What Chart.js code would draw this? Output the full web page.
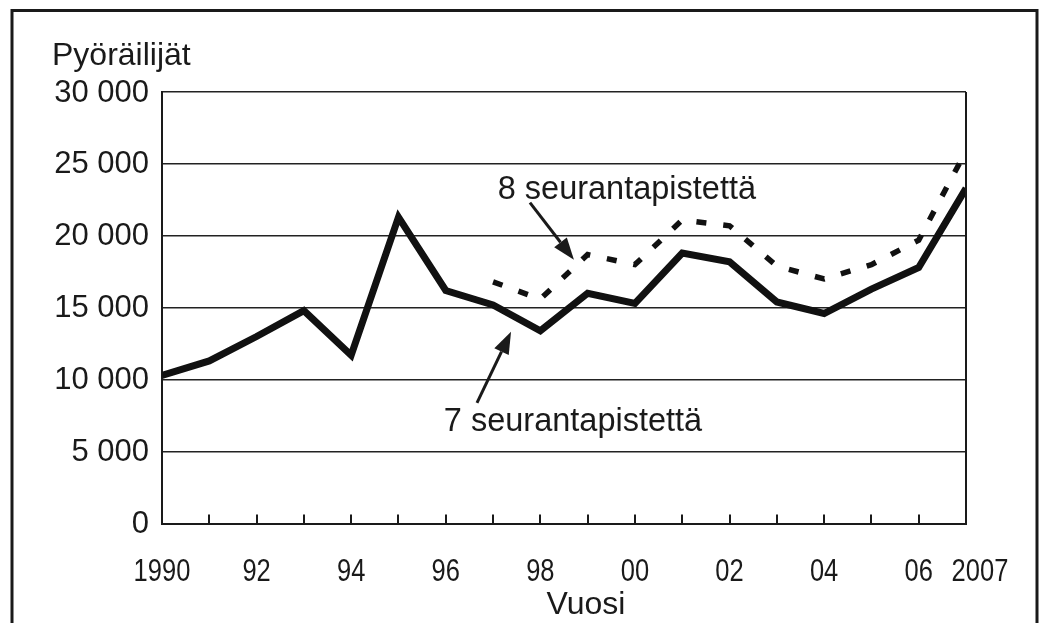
<!DOCTYPE html>
<html>
<head>
<meta charset="utf-8">
<script src="https://cdn.jsdelivr.net/npm/chart.js@4.4.1/dist/chart.umd.min.js"></script>
<style>
  html, body { margin: 0; padding: 0; background: #fff; }
  #wrap { width: 1043px; height: 623px; }
</style>
</head>
<body>
<div id="wrap"><canvas id="chart" width="1043" height="623"></canvas></div>
<script>
// data
const years = [1990, 1991, 1992, 1993, 1994, 1995, 1996, 1997, 1998, 1999, 2000, 2001, 2002, 2003, 2004, 2005, 2006, 2007];
const sevenPoints = [10300, 11300, 13000, 14800, 11700, 21300, 16200, 15200, 13400, 16000, 15300, 18800, 18200, 15400, 14600, 16300, 17800, 23300];
const eightYears = [1997, 1998, 1999, 2000, 2001, 2002, 2003, 2004, 2005, 2006, 2007];
const eightPoints = [16800, 15600, 18700, 18000, 21100, 20700, 17900, 17000, 18000, 19700, 25900];

const xTickYears = [1990, 1992, 1994, 1996, 1998, 2000, 2002, 2004, 2006, 2007];
const xTickLabels = ['1990', '92', '94', '96', '98', '00', '02', '04', '06', '2007'];

const yTitle = 'Pyöräilijät';
const xTitle = 'Vuosi';
const label8 = '8 seurantapistettä';
const label7 = '7 seurantapistettä';

const ink = '#1a1a1a';
const font = '"Liberation Sans", Arial, Helvetica, sans-serif';

function fmt(v) {
  if (v === 0) return '0';
  return Math.floor(v / 1000) + ' 000';
}

function arrow(ctx, x1, y1, x2, y2) {
  const ang = Math.atan2(y2 - y1, x2 - x1);
  const len = 22, half = 8;
  const bx = x2 - Math.cos(ang) * len, by = y2 - Math.sin(ang) * len;
  ctx.beginPath();
  ctx.moveTo(x1, y1);
  ctx.lineTo(bx, by);
  ctx.lineWidth = 3;
  ctx.strokeStyle = ink;
  ctx.stroke();
  ctx.beginPath();
  ctx.moveTo(x2, y2);
  ctx.lineTo(bx - Math.sin(ang) * half, by + Math.cos(ang) * half);
  ctx.lineTo(bx + Math.sin(ang) * half, by - Math.cos(ang) * half);
  ctx.closePath();
  ctx.fillStyle = ink;
  ctx.fill();
}

const extras = {
  id: 'extras',
  afterDraw(chart) {
    const ctx = chart.ctx;
    const a = chart.chartArea;
    const xs = chart.scales.x, ys = chart.scales.y;
    ctx.save();

    // outer frame (no bottom edge)
    ctx.strokeStyle = ink;
    ctx.lineWidth = 3;
    ctx.beginPath();
    ctx.moveTo(12, 640);
    ctx.lineTo(12, 10.5);
    ctx.lineTo(1037, 10.5);
    ctx.lineTo(1037, 640);
    ctx.stroke();

    // right edge of plot
    ctx.lineWidth = 2;
    ctx.beginPath();
    ctx.moveTo(a.right, a.top);
    ctx.lineTo(a.right, a.bottom);
    ctx.stroke();

    // small ticks on x axis, pointing up
    ctx.lineWidth = 2;
    ctx.beginPath();
    years.slice(1, -1).forEach(y => {
      const px = Math.round(xs.getPixelForValue(y));
      ctx.moveTo(px, a.bottom);
      ctx.lineTo(px, a.bottom - 9);
    });
    ctx.stroke();

    // x tick labels, condensed
    ctx.fillStyle = ink;
    ctx.textAlign = 'center';
    ctx.textBaseline = 'alphabetic';
    ctx.font = '31.5px ' + font;
    xTickYears.forEach((y, i) => {
      let px = xs.getPixelForValue(y);
      if (y === 2007) px += 14;
      ctx.save();
      ctx.translate(px, 580.5);
      ctx.scale(0.81, 1);
      ctx.fillText(xTickLabels[i], 0, 0);
      ctx.restore();
    });

    // titles
    ctx.font = '32px ' + font;
    ctx.textAlign = 'center';
    ctx.fillText(xTitle, 586, 614);
    ctx.textAlign = 'left';
    ctx.fillText(yTitle, 52, 65);

    // annotations
    ctx.textAlign = 'center';
    ctx.font = '32.5px ' + font;
    ctx.fillText(label8, xs.getPixelForValue(1999.83), ys.getPixelForValue(22550));
    ctx.fillText(label7, xs.getPixelForValue(1998.69), ys.getPixelForValue(6460));

    arrow(ctx, xs.getPixelForValue(1997.78), ys.getPixelForValue(22310),
      xs.getPixelForValue(1998.71), ys.getPixelForValue(18340));
    arrow(ctx, xs.getPixelForValue(1996.66), ys.getPixelForValue(8390),
      xs.getPixelForValue(1997.38), ys.getPixelForValue(13330));

    ctx.restore();
  }
};

new Chart(document.getElementById('chart'), {
  type: 'line',
  data: {
    datasets: [
      {
        label: label7,
        data: years.map((y, i) => ({ x: y, y: sevenPoints[i] })),
        borderColor: '#111',
        borderWidth: 7,
        borderJoinStyle: 'miter',
        pointRadius: 0,
        tension: 0
      },
      {
        label: label8,
        data: eightYears.map((y, i) => ({ x: y, y: eightPoints[i] })),
        borderColor: '#111',
        borderWidth: 5.5,
        borderDash: [10, 17],
        borderCapStyle: 'butt',
        pointRadius: 0,
        tension: 0
      }
    ]
  },
  options: {
    responsive: false,
    animation: false,
    events: [],
    layout: { padding: { left: 52, right: 77, top: 92, bottom: 99.5 } },
    plugins: { legend: { display: false }, tooltip: { enabled: false } },
    scales: {
      x: {
        type: 'linear',
        min: 1990,
        max: 2007,
        ticks: { display: false },
        grid: { display: false },
        border: { display: true, color: ink, width: 2 },
        afterFit: s => { s.height = 0; }
      },
      y: {
        min: 0,
        max: 30000,
        ticks: {
          stepSize: 5000,
          color: ink,
          padding: 13,
          labelOffset: 1,
          font: { family: font, size: 31 },
          callback: v => fmt(v)
        },
        grid: { color: '#222', lineWidth: 1.5, drawTicks: false },
        border: { display: true, color: ink, width: 2 },
        afterFit: s => { s.width = 110; }
      }
    }
  },
  plugins: [extras]
});
</script>
</body>
</html>
